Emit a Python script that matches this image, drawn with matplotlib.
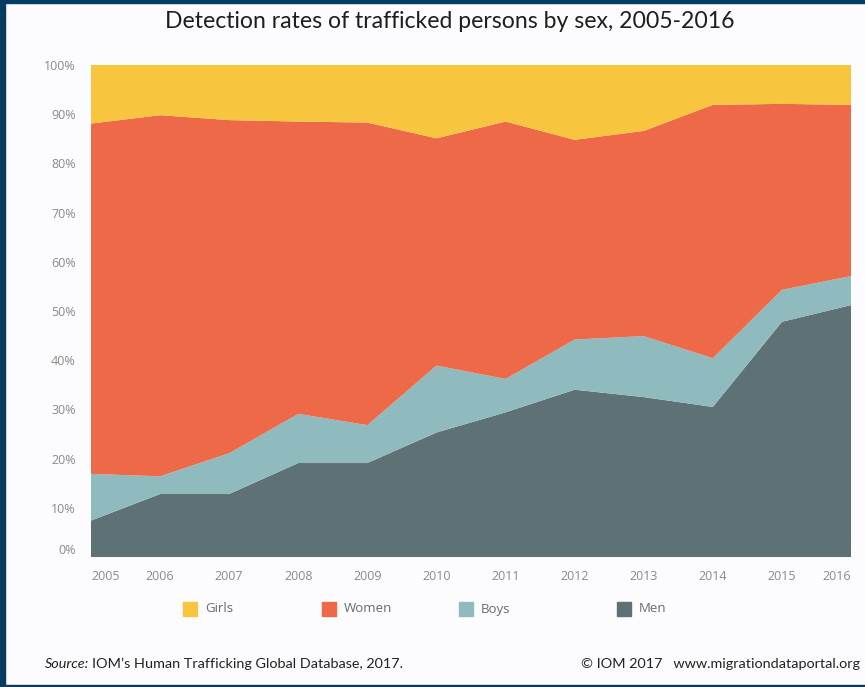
import matplotlib
matplotlib.use("Agg")
import matplotlib.pyplot as plt
from matplotlib.patches import Rectangle
from matplotlib.transforms import ScaledTranslation

years = [2005, 2006, 2007, 2008, 2009, 2010, 2011, 2012, 2013, 2014, 2015, 2016]
men = [7.4, 12.8, 12.8, 19.1, 19.1, 25.3, 29.4, 34.0, 32.5, 30.5, 47.8, 51.2]
boys = [9.5, 3.6, 8.3, 10.0, 7.7, 13.6, 6.8, 10.2, 12.4, 9.9, 6.5, 5.9]
women = [71.2, 73.4, 67.7, 59.4, 61.5, 46.2, 52.3, 40.6, 41.7, 51.5, 37.8, 34.8]
girls = [11.9, 10.2, 11.2, 11.5, 11.7, 14.9, 11.5, 15.2, 13.4, 8.1, 7.9, 8.1]
series_names = ["Girls", "Women", "Boys", "Men"]
y_ticks = [0, 10, 20, 30, 40, 50, 60, 70, 80, 90, 100]

colors = {"Girls": "#F8C53F", "Women": "#EE6947", "Boys": "#8FBBBF", "Men": "#5E7175"}
BG = "#FCFBFE"

fig = plt.figure(figsize=(8.65, 6.87), dpi=100, facecolor=BG)
W, H = 865, 687

# frame border (dark blue)
fig.patches.append(Rectangle((0, 0), 5 / W, 1, transform=fig.transFigure, color="#063B62", zorder=0))
fig.patches.append(Rectangle((0, 1 - 3 / H), 1, 3 / H, transform=fig.transFigure, color="#063B62", zorder=0))
fig.patches.append(Rectangle((0, 0), 1, 2 / H, transform=fig.transFigure, color="#063B62", zorder=0))

left, right, top, bottom = 91, 851, 65, 557
ax = fig.add_axes([left / W, 1 - bottom / H, (right - left) / W, (bottom - top) / H])
ax.set_facecolor(BG)

totals = [m + b + w + g for m, b, w, g in zip(men, boys, women, girls)]
norm = lambda s: [v / t * 100 for v, t in zip(s, totals)]
ax.stackplot(years, norm(men), norm(boys), norm(women), norm(girls),
             colors=[colors["Men"], colors["Boys"], colors["Women"], colors["Girls"]],
             linewidth=0)

ax.set_xlim(years[0], years[-1])
ax.set_ylim(0, 100)
for s in ax.spines.values():
    s.set_visible(False)

tick_font = dict(family="Open Sans", size=9, color="#8A8A8A")
ax.set_yticks(y_ticks)
ax.set_yticklabels([f"{t}%" for t in y_ticks], **tick_font)
ax.set_xticks(years)
ax.set_xticklabels([str(y) for y in years], **tick_font)
ax.tick_params(axis="both", length=0)
ax.tick_params(axis="y", pad=11)
ax.tick_params(axis="x", pad=9)
xl = ax.get_xticklabels()
xl[0].set_ha("left")
xl[-1].set_ha("right")
yl = ax.get_yticklabels()
yl[0].set_transform(yl[0].get_transform() + ScaledTranslation(0, 8 / 100, fig.dpi_scale_trans))

# title
fig.text(450 / W, 1 - 22 / H, "Detection rates of trafficked persons by sex, 2005-2016",
         ha="center", va="center", family="Lato", fontsize=16.6, color="#1E1E1E")

# legend
leg_pos = {"Girls": 183, "Women": 322, "Boys": 459, "Men": 617}
ly = 609
for name in series_names:
    x0 = leg_pos[name]
    fig.patches.append(Rectangle((x0 / W, 1 - (ly + 7) / H), 14 / W, 14 / H,
                                 transform=fig.transFigure, color=colors[name]))
    fig.text((x0 + 22) / W, 1 - ly / H, name, ha="left", va="center",
             family="Open Sans", fontsize=9.5, color="#6A6A6A")

# source line
fig.text(45 / W, 1 - 664 / H, "Source:", ha="left", va="center", family="Lato",
         style="italic", fontsize=10.4, color="#222222")
fig.text(92 / W, 1 - 664 / H, "IOM’s Human Trafficking Global Database, 2017.", ha="left",
         va="center", family="Lato", fontsize=10.4, color="#222222")
fig.text(860 / W, 1 - 664 / H, "© IOM 2017   www.migrationdataportal.org", ha="right",
         va="center", family="Lato", fontsize=10.4, color="#222222")

fig.savefig("out.png", dpi=100, facecolor=BG)
